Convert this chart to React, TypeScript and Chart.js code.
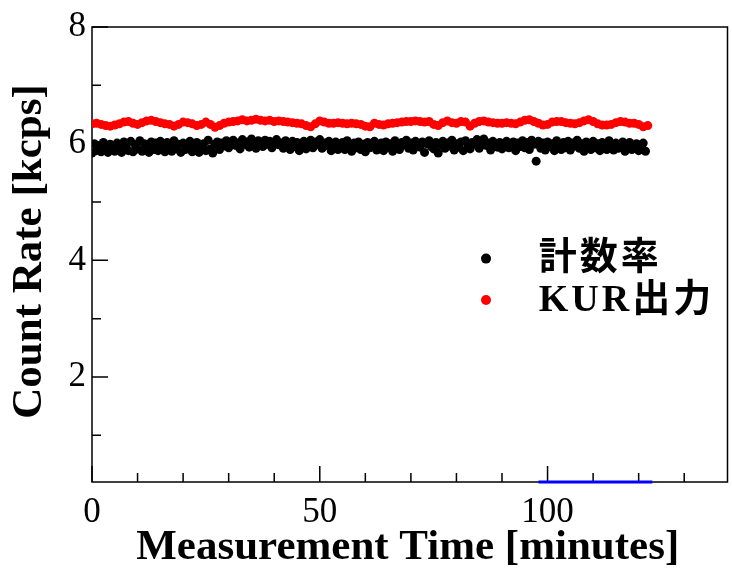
import { useEffect, useRef } from "react";
import { Chart, registerables } from "chart.js";

Chart.register(...registerables);

// ---- data ----
const RED_STEP = 1; // minutes between KUR output samples
const redValues = [
  6.34, 6.35, 6.33, 6.31, 6.30, 6.32, 6.34, 6.37, 6.38, 6.35,
  6.33, 6.36, 6.39, 6.40, 6.38, 6.36, 6.34, 6.33, 6.30, 6.33,
  6.37, 6.36, 6.34, 6.31, 6.33, 6.37, 6.33, 6.28, 6.31, 6.35,
  6.37, 6.38, 6.39, 6.41, 6.39, 6.40, 6.42, 6.40, 6.39, 6.40,
  6.38, 6.39, 6.38, 6.37, 6.36, 6.35, 6.34, 6.31, 6.29, 6.34,
  6.39, 6.37, 6.35, 6.35, 6.36, 6.35, 6.34, 6.35, 6.34, 6.33,
  6.30, 6.29, 6.35, 6.33, 6.32, 6.34, 6.35, 6.36, 6.37, 6.38,
  6.38, 6.39, 6.38, 6.37, 6.38, 6.33, 6.31, 6.36, 6.39, 6.36,
  6.35, 6.38, 6.37, 6.30, 6.35, 6.38, 6.39, 6.37, 6.36, 6.35,
  6.35, 6.36, 6.35, 6.34, 6.37, 6.40, 6.41, 6.38, 6.35, 6.32,
  6.33, 6.37, 6.38, 6.38, 6.36, 6.35, 6.34, 6.36, 6.39, 6.41,
  6.38, 6.34, 6.32, 6.32, 6.33, 6.36, 6.38, 6.37, 6.35, 6.35,
  6.33, 6.29, 6.31,
];

const BLACK_STEP = 0.5; // minutes between count-rate samples
const blackValues = [
  5.84, 6.00, 5.88, 5.97, 5.86, 6.02, 5.91, 5.85, 5.99, 5.90,
  5.87, 6.01, 5.95, 5.85, 6.03, 5.96, 5.88, 6.04, 5.86, 5.98,
  5.91, 6.05, 5.87, 6.00, 5.96, 5.85, 6.03, 5.90, 6.01, 5.88,
  6.04, 5.95, 5.86, 6.02, 5.97, 5.87, 6.05, 5.91, 5.99, 5.85,
  6.01, 5.90, 5.97, 6.04, 5.86, 5.95, 6.02, 5.85, 5.96, 6.00,
  5.88, 6.06, 5.91, 5.84, 5.99, 6.03, 5.90, 6.01, 5.96, 6.05,
  5.93, 6.02, 6.06, 5.97, 6.01, 5.91, 6.07, 5.99, 6.03, 5.94,
  6.08, 6.00, 5.92, 6.05, 6.02, 5.95, 6.06, 5.99, 6.04, 5.93,
  6.03, 6.07, 5.98, 6.01, 5.92, 6.05, 6.00, 5.90, 6.04, 5.95,
  6.02, 5.88, 6.00, 6.04, 5.91, 5.98, 6.06, 5.93, 6.03, 5.99,
  6.07, 5.92, 6.01, 5.97, 6.04, 5.88, 6.00, 6.03, 5.90, 5.98,
  6.02, 5.90, 6.05, 5.97, 5.87, 6.01, 5.93, 6.03, 5.90, 5.99,
  5.86, 6.02, 5.93, 5.98, 6.04, 5.89, 5.99, 6.01, 5.88, 6.03,
  5.94, 6.00, 5.87, 6.05, 5.97, 5.90, 6.02, 5.98, 6.06, 5.92,
  6.01, 5.89, 6.04, 5.99, 5.94, 6.03, 5.85, 6.00, 6.05, 5.95,
  5.91, 6.02, 5.84, 5.98, 6.04, 5.92, 6.01, 5.96, 6.06, 5.89,
  6.00, 5.94, 6.03, 5.88, 6.05, 5.98, 5.91, 6.02, 5.99, 6.07,
  5.92, 6.03, 6.08, 5.97, 6.01, 5.89, 6.04, 5.99, 5.94, 6.02,
  5.91, 6.00, 6.04, 5.93, 5.98, 6.03, 5.88, 6.01, 5.95, 6.05,
  5.93, 6.02, 5.90, 6.06, 5.99, 5.70, 6.04, 5.92, 6.01, 5.89,
  6.03, 5.95, 6.00, 5.88, 6.05, 5.98, 5.90, 6.02, 5.93, 6.04,
  5.89, 6.01, 5.96, 6.06, 5.92, 6.00, 5.87, 6.03, 5.98, 5.90,
  6.04, 5.93, 6.00, 5.88, 6.02, 5.96, 5.90, 6.05, 5.99, 5.89,
  6.01, 5.92, 5.98, 6.03, 5.87, 5.99, 6.02, 5.90, 5.96, 6.00,
  5.88, 5.98, 6.01, 5.87,
];

const blueTimes = [98, 123];
const blueValues = [0.2, 0.2];

const X_MIN = 0;
const X_MAX = 139.5;
const Y_MIN = 0.2;
const Y_MAX = 8;

const xMajorTicks = [0, 50, 100];
const xMinorTicks = [10, 20, 30, 40, 60, 70, 80, 90, 110, 120, 130];
const yMajorTicks = [2, 4, 6, 8];
const yMinorTicks = [1, 3, 5, 7];

const seriesLabels = ["計数率", "KUR出力"];
const seriesColors = ["#000000", "#ff0000"];
const xTitle = "Measurement Time [minutes]";
const yTitle = "Count Rate [kcps]";

const SERIF = '"Liberation Serif", "Times New Roman", "Noto Sans CJK JP", serif';

const axisPlugin = {
  id: "axisDecor",
  beforeDatasetsDraw(chart: any) {
    const { ctx, chartArea, scales } = chart;
    const { left, right, top, bottom } = chartArea;
    const xs = scales.x;
    const ys = scales.y;
    ctx.save();
    ctx.strokeStyle = "#000";
    ctx.lineWidth = 1.5;
    ctx.strokeRect(left, top, right - left, bottom - top);
    ctx.beginPath();
    for (const v of xMajorTicks) {
      const p = xs.getPixelForValue(v);
      ctx.moveTo(p, bottom);
      ctx.lineTo(p, bottom - 16);
    }
    for (const v of xMinorTicks) {
      const p = xs.getPixelForValue(v);
      ctx.moveTo(p, bottom);
      ctx.lineTo(p, bottom - 9);
    }
    for (const v of yMajorTicks) {
      const p = ys.getPixelForValue(v);
      ctx.moveTo(left, p);
      ctx.lineTo(left + 16, p);
    }
    for (const v of yMinorTicks) {
      const p = ys.getPixelForValue(v);
      ctx.moveTo(left, p);
      ctx.lineTo(left + 9, p);
    }
    ctx.stroke();
    ctx.restore();
  },
  afterDraw(chart: any) {
    const { ctx, chartArea, scales } = chart;
    const { left, right, top, bottom } = chartArea;
    const xs = scales.x;
    const ys = scales.y;
    ctx.save();
    ctx.fillStyle = "#000";
    // tick labels
    ctx.font = `35px ${SERIF}`;
    ctx.textBaseline = "middle";
    ctx.textAlign = "right";
    for (const v of yMajorTicks) {
      ctx.fillText(String(v), left - 6, ys.getPixelForValue(v));
    }
    ctx.textAlign = "center";
    for (const v of xMajorTicks) {
      ctx.fillText(String(v), xs.getPixelForValue(v), bottom + 31);
    }
    // axis titles
    ctx.font = `bold 43px ${SERIF}`;
    ctx.fillText(xTitle, (left + right) / 2 - 2, bottom + 66);
    ctx.save();
    ctx.translate(30, (top + bottom) / 2 - 3);
    ctx.rotate(-Math.PI / 2);
    ctx.fillText(yTitle, 0, 0);
    ctx.restore();
    // legend (inside plot area, right half)
    const w = right - left;
    const h = bottom - top;
    const dotX = left + w * 0.62;
    const textX = left + w * 0.703;
    const rowY = [top + h * 0.509, top + h * 0.6];
    ctx.font = `bold 38px ${SERIF}`;
    ctx.textAlign = "left";
    (ctx as any).letterSpacing = "3px";
    seriesLabels.forEach((lab, i) => {
      ctx.fillStyle = seriesColors[i];
      ctx.beginPath();
      ctx.arc(dotX, rowY[i], 5, 0, Math.PI * 2);
      ctx.fill();
      ctx.fillStyle = "#000";
      ctx.fillText(lab, textX, rowY[i] + 1);
    });
    ctx.restore();
  },
};

export default function App() {
  const ref = useRef<HTMLCanvasElement | null>(null);
  useEffect(() => {
    document.body.style.margin = "0";
    const canvas = ref.current;
    if (!canvas) return;
    const chart = new Chart(canvas, {
      type: "scatter",
      data: {
        datasets: [
          {
            label: seriesLabels[0],
            data: blackValues.map((v, i) => ({ x: i * BLACK_STEP, y: v })),
            backgroundColor: seriesColors[0],
            borderColor: seriesColors[0],
            pointRadius: 4.5,
            pointBorderWidth: 0,
            showLine: false,
          },
          {
            label: seriesLabels[1],
            data: redValues.map((v, i) => ({ x: i * RED_STEP, y: v })),
            backgroundColor: seriesColors[1],
            borderColor: seriesColors[1],
            pointRadius: 4.5,
            pointBorderWidth: 0,
            showLine: false,
          },
          {
            label: "",
            data: blueValues.map((v, i) => ({ x: blueTimes[i], y: v })),
            borderColor: "#0000ff",
            backgroundColor: "#0000ff",
            borderWidth: 3,
            pointRadius: 0,
            showLine: true,
            clip: false,
          } as any,
        ],
      },
      options: {
        responsive: false,
        animation: false,
        devicePixelRatio: 1,
        layout: { padding: { left: 92, top: 27, right: 2, bottom: 88 } },
        plugins: { legend: { display: false }, tooltip: { enabled: false } },
        scales: {
          x: {
            type: "linear",
            min: X_MIN,
            max: X_MAX,
            ticks: { display: false },
            grid: { display: false, drawTicks: false },
            border: { display: false },
          },
          y: {
            type: "linear",
            min: Y_MIN,
            max: Y_MAX,
            ticks: { display: false },
            grid: { display: false, drawTicks: false },
            border: { display: false },
          },
        },
      },
      plugins: [axisPlugin],
    });
    return () => chart.destroy();
  }, []);
  return (
    <canvas ref={ref} width={732} height={570} style={{ display: "block" }} />
  );
}
